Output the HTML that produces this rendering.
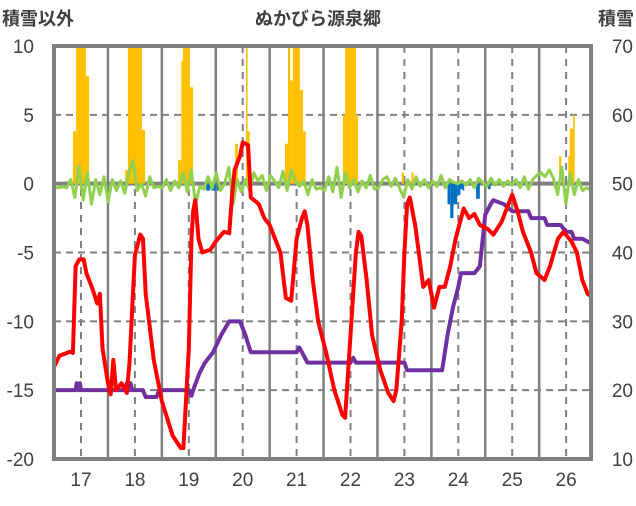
<!DOCTYPE html>
<html><head><meta charset="utf-8"><style>
html,body{margin:0;padding:0;background:#fff;}
svg text{font-family:"Liberation Sans","Noto Sans CJK JP",sans-serif;fill:#404040;}
</style></head><body>
<svg id="chart" width="636" height="501" xmlns="http://www.w3.org/2000/svg">
<defs><clipPath id="pc"><rect x="54" y="46" width="537" height="413"/></clipPath></defs>
<g id="grid"></g>
<g id="bars" clip-path="url(#pc)"></g>
<g id="lines" clip-path="url(#pc)"></g>
<g id="frame"></g>
<g id="labels"></g>
<text x="318" y="25" text-anchor="middle" font-size="18" font-weight="bold">ぬかびら源泉郷</text>
<text x="2" y="25" font-size="18" font-weight="bold">積雪以外</text>
<text x="634" y="25" text-anchor="end" font-size="18" font-weight="bold">積雪</text>
</svg>
<script>
const leftTicks=[10,5,0,-5,-10,-15,-20];
const rightTicks=[70,60,50,40,30,20,10];
const dayLabels=[17,18,19,20,21,22,23,24,25,26];
const tempDays=[16.5,16.6,16.8,16.85,16.9,16.97,17.05,17.1,17.2,17.3,17.35,17.4,17.5,17.55,17.6,17.65,17.75,17.85,17.9,18.0,18.1,18.15,18.2,18.35,18.5,18.7,18.85,18.9,19.0,19.05,19.08,19.12,19.18,19.25,19.4,19.5,19.65,19.75,19.8,19.85,19.95,20.0,20.1,20.15,20.3,20.4,20.5,20.6,20.7,20.8,20.9,21.0,21.1,21.15,21.2,21.3,21.4,21.55,21.7,21.85,21.9,22.0,22.1,22.15,22.2,22.3,22.4,22.55,22.7,22.8,22.85,22.95,23.0,23.05,23.1,23.2,23.3,23.35,23.45,23.55,23.65,23.75,23.85,23.95,24.1,24.2,24.3,24.4,24.55,24.65,24.8,24.9,25.0,25.1,25.2,25.35,25.45,25.6,25.7,25.85,25.95,26.1,26.2,26.3,26.4,26.47];
const tempValues=[-13.3,-12.5,-12.2,-12.3,-6,-5.5,-5.5,-6.5,-7.5,-8.7,-8,-12,-14.5,-15.3,-12.8,-15,-14.5,-15.2,-13,-5.2,-3.7,-4,-8,-12.8,-15.8,-18.3,-19.2,-19.2,-12,-4,-2,-1.2,-4,-5,-4.8,-4.2,-3.5,-3.6,-1,1,2,3,2.8,-1,-1.5,-2.5,-3,-4,-5,-8.3,-8.5,-4,-2.5,-2,-3,-7,-10,-12.3,-15,-16.8,-17,-11,-5,-3.5,-3.8,-7,-11,-13.5,-15.2,-15.8,-15,-10,-5,-1.5,-1,-3,-6,-7.5,-7,-9,-7.5,-7.5,-6,-4,-1.8,-2.5,-2.2,-3,-3.3,-3.7,-2.8,-1.8,-0.8,-2,-3.5,-5,-6.5,-7,-6,-4,-3.5,-4.2,-5,-7,-8,-8.2];
const snowDays=[16.5,16.9,16.92,16.96,16.98,17.0,17.02,17.05,17.8,17.85,17.87,17.9,17.92,17.95,17.97,18.0,18.15,18.2,18.4,18.45,19.0,19.03,19.05,19.08,19.2,19.3,19.45,19.6,19.75,19.95,20.05,20.15,21.0,21.05,21.1,21.2,22.0,22.05,22.1,23.0,23.05,23.7,23.8,23.9,24.0,24.05,24.3,24.4,24.5,24.6,24.65,24.85,25.0,25.3,25.35,25.6,25.65,25.9,26.0,26.1,26.15,26.3,26.47];
const snowValues=[20,20,21,20,21,20,20,20,20,21,20,20,21,20,20,20,20,19,19,20,20,19.2,19.2,20,22.5,24,25.5,28,30,30,28,25.5,25.5,26.2,25.5,24,24,24.7,24,24,22.9,22.9,28,32,35,37,37,38,45.5,47,47.6,47,46,46,45,45,44,44,43,43,42,42,41.3];
const snowfallStart=[16.85,16.91,17.09,17.82,17.87,18.13,18.80,18.86,18.89,19.02,19.86,20.06,20.09,20.785,20.84,20.88,20.93,21.06,21.12,21.86,21.90,22.10,22.95,23.13,25.87,26.04,26.07,26.13,19.32,19.42,19.52,23.80,23.85,23.91,23.98,24.04,24.08,24.33,24.55];
const snowfallEnd=[16.91,17.09,17.15,17.87,18.13,18.19,18.86,18.89,19.02,19.08,19.91,20.09,20.13,20.84,20.88,20.93,21.06,21.12,21.17,21.90,22.10,22.14,22.99,23.17,25.91,26.07,26.13,26.16,19.40,19.50,19.58,23.85,23.91,23.98,24.04,24.08,24.11,24.40,24.60];
const snowfallValues=[3.8,10,7.8,1,10,3.9,1.7,8.9,10,7,2.9,10,3.8,2.9,10,7.5,10,6.8,3.8,5,10,5,0.8,0.8,2,2,4,5,-0.5,-0.5,-0.5,-1.5,-2.5,-1.5,-0.8,-0.4,-0.5,-1.1,-0.4];
const windValues=[-0.3,-0.3,-0.2,-0.3,0.3,-1.0,1.3,-1.2,0.8,-1.5,0.3,-0.8,0.5,-1.3,0.3,-0.5,0.2,-0.7,0.8,1.7,-0.5,0.0,-0.9,0.5,-0.3,-0.2,-0.3,0.3,-0.5,0.2,-0.3,0.8,-0.6,1.0,-1.5,-0.2,-0.4,0.5,-0.3,0.8,-0.5,0.0,1.2,-1.5,0.3,-0.6,0.3,-0.5,0.8,0.2,0.6,-0.5,0.6,0.2,-0.3,0.9,-0.5,1.0,0.2,-0.2,0.2,-0.8,0.3,-0.4,-0.3,-0.5,0.5,-0.6,1.2,-1.0,0.8,-0.3,0.3,-0.6,0.2,-0.3,0.6,-0.4,-0.3,0.3,0.5,-0.2,0.4,-0.3,-1.0,0.3,-0.4,0.5,-0.2,0.3,-0.3,0.2,-0.2,0.6,-0.3,0.3,0.1,0.0,0.2,-0.1,0.3,-0.3,0.4,0.1,-0.2,0.4,-0.1,0.3,-0.2,0.2,-0.1,0.3,-0.3,0.5,-0.4,0.3,0.6,0.8,0.5,1.0,0.4,-0.8,1.2,-1.5,0.8,-0.8,0.3,-0.5,-0.3,-0.5];

const NS='http://www.w3.org/2000/svg';
const L=54,R=591,T=46,B=459;
const xS=d=>81+(d-17)*53.9;
const yL=v=>T+(10-v)*(B-T)/30;
const yR=v=>T+(70-v)*(B-T)/60;
function mk(tag,attrs,parent){const e=document.createElementNS(NS,tag);for(const k in attrs)e.setAttribute(k,attrs[k]);parent.appendChild(e);return e;}
const grid=document.getElementById('grid'),bars=document.getElementById('bars'),lines=document.getElementById('lines'),frame=document.getElementById('frame'),labels=document.getElementById('labels');
leftTicks.forEach(v=>{if(v===10||v===-20)return;const y=yL(v);
 const g=mk('line',{x1:L,x2:R,y1:y,y2:y,stroke:'#808080','stroke-width':v===0?4:2,'stroke-dasharray':v===0?'':'7,5'},grid);
 
 });
dayLabels.forEach(d=>{const x=xS(d);
 const g=mk('line',{x1:x,x2:x,y1:T,y2:B,stroke:'#808080','stroke-width':2,'stroke-dasharray':'7,6'},grid);
 
 
 const xh=xS(d+0.5);if(xh<R-2){const h=mk('line',{x1:xh,x2:xh,y1:T,y2:B,stroke:'#808080','stroke-width':2.5},grid);
 
 }
 const t=mk('text',{x:x,y:486,'text-anchor':'middle','font-size':19},labels);t.textContent=d;
 
 });
leftTicks.forEach(v=>{const t=mk('text',{x:34,y:yL(v)+7,'text-anchor':'end','font-size':19},labels);t.textContent=v;
 
 });
rightTicks.forEach(v=>{const t=mk('text',{x:633,y:yR(v)+7,'text-anchor':'end','font-size':19},labels);t.textContent=v;
 
 });
snowfallValues.forEach((v,i)=>{const x1=xS(snowfallStart[i]),x2=xS(snowfallEnd[i]);const y0=yL(0),y1=yL(v);
 const r=mk('rect',{x:x1,width:Math.max(1,x2-x1),y:Math.min(y0,y1),height:Math.abs(y1-y0),fill:v>=0?'#FFC000':'#0070C0'},bars);
 
 });
const step=(26.46-16.5)/(windValues.length-1);
const gp=mk('polyline',{points:windValues.map((v,i)=>xS(16.5+i*step)+','+yL(v)).join(' '),fill:'none',stroke:'#92D050','stroke-width':3,'stroke-linejoin':'round'},lines);


const pp=mk('polyline',{points:snowValues.map((v,i)=>xS(snowDays[i])+','+yR(v)).join(' '),fill:'none',stroke:'#7030A0','stroke-width':4,'stroke-linejoin':'round'},lines);


const rp=mk('polyline',{points:tempValues.map((v,i)=>xS(tempDays[i])+','+yL(v)).join(' '),fill:'none',stroke:'#FF0000','stroke-width':4,'stroke-linejoin':'round'},lines);


const fr=mk('rect',{x:L,y:T,width:R-L,height:B-T,fill:'none',stroke:'#808080','stroke-width':4},frame);


</script>
</body></html>
